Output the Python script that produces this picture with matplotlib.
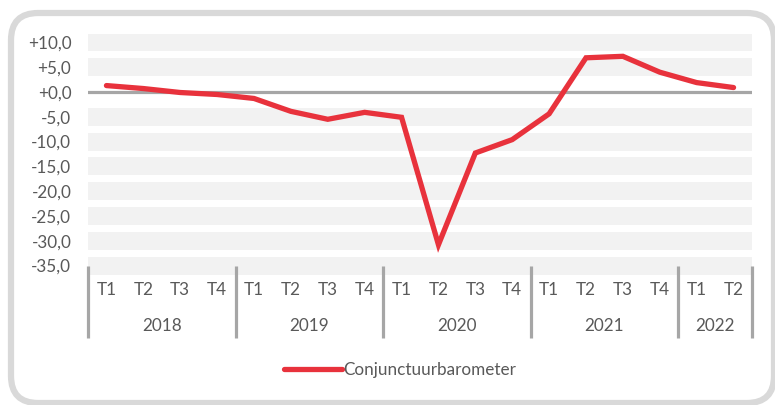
import matplotlib.pyplot as plt
from matplotlib.patches import FancyBboxPatch
from matplotlib.transforms import blended_transform_factory

plt.rcParams['font.family'] = ['Lato', 'DejaVu Sans']

# data
years = ['2018', '2019', '2020', '2021', '2022']
quarters_per_year = [4, 4, 4, 4, 2]
quarters = ['T1', 'T2', 'T3', 'T4'] * 4 + ['T1', 'T2']
values = [1.3, 0.7, -0.1, -0.5, -1.3, -3.9, -5.5, -4.1, -5.1,
          -30.8, -12.3, -9.6, -4.4, 6.9, 7.2, 4.0, 1.9, 0.9]
yticks = [10, 5, 0, -5, -10, -15, -20, -25, -30, -35]

grey_txt = '#595959'
fs = 12.3
fig = plt.figure(figsize=(7.75, 4.05), dpi=100)

# rounded outer frame (partly cut off at right/bottom)
W, H = 775, 405
frame = FancyBboxPatch((11 / W, 2 / H), (763 / W), (390 / H),
                       boxstyle='round,pad=0,rounding_size=0.035',
                       transform=fig.transFigure, fill=False,
                       edgecolor='#d9d9d9', linewidth=4.5, mutation_aspect=W / H)
fig.patches.append(frame)

ax = fig.add_axes([88 / W, 1 - 274.5 / H, 664 / W, 241 / H])
n = len(values)
x = list(range(n))

# thick light bands at each tick, dark zero line
for t in yticks:
    if t == 0:
        ax.axhline(0, color='#a6a6a6', lw=2.3, zorder=2)
    else:
        ax.axhspan(t - 1.8, t + 1.8, color='#f2f2f2', lw=0, zorder=1)

ax.plot(x, values, color='#e8323c', lw=3.8, solid_capstyle='round',
        solid_joinstyle='miter', zorder=3, label='Conjunctuurbarometer')

ax.set_xlim(-0.5, n - 0.5)
ax.set_ylim(-36.8, 11.8)
ax.set_yticks(yticks)
ax.set_yticklabels(['{:+.1f}'.format(t).replace('.', ',') for t in yticks],
                   color=grey_txt, fontsize=fs)
ax.tick_params(axis='y', length=0, pad=12)
ax.set_xticks([])
for s in ax.spines.values():
    s.set_visible(False)

# category axis: quarters, years, separators
trans = blended_transform_factory(ax.transData, fig.transFigure)
for i, q in enumerate(quarters):
    ax.text(i, 1 - 290 / H, q, transform=trans, ha='center', va='center',
            color=grey_txt, fontsize=fs)
pos = 0
seps = [-0.5]
for y, k in zip(years, quarters_per_year):
    ax.text(pos + (k - 1) / 2, 1 - 326 / H, y, transform=trans, ha='center',
            va='center', color=grey_txt, fontsize=fs)
    pos += k
    seps.append(pos - 0.5)
for s in seps:
    ax.plot([s, s], [1 - 266 / H, 1 - 338 / H], transform=trans, color='#a6a6a6',
            lw=2.3, clip_on=False, solid_capstyle='butt')

fig.legend(loc='center', bbox_to_anchor=(400 / W, 1 - 370 / H), frameon=False,
           fontsize=fs, handlelength=3.4, handletextpad=0.1, labelcolor=grey_txt)

fig.savefig('out.png', dpi=100)
